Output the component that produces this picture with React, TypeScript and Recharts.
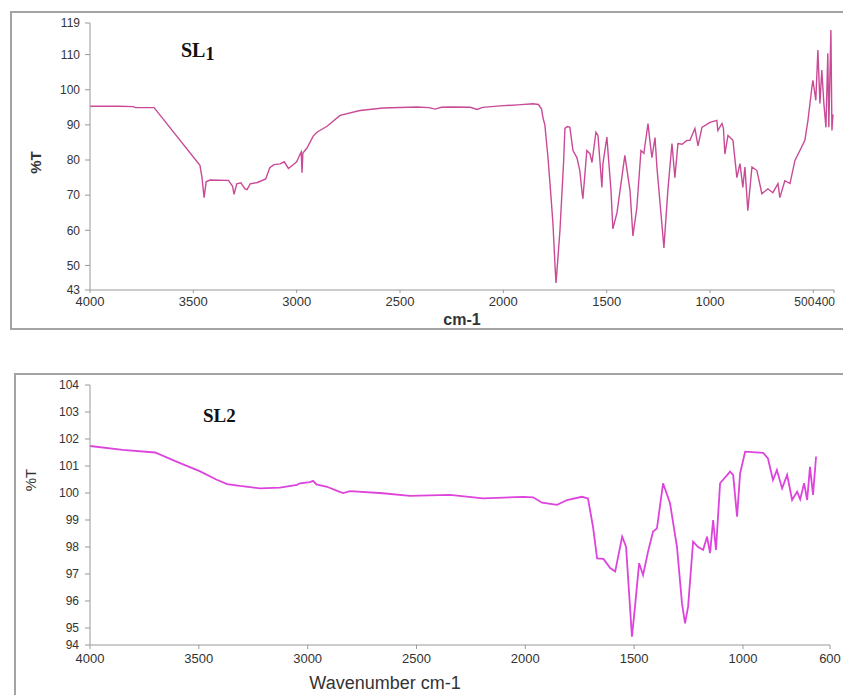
import { LineChart, Line, XAxis, YAxis, Label } from "recharts";

// SL1 spectrum (cm-1 vs %T)
const sl1Wavenumber = [
  4000, 3860, 3790, 3780, 3690, 3468, 3458, 3448, 3438, 3420, 3330, 3310, 3303, 3290, 3270, 3250, 3240, 3225,
  3190, 3150, 3130, 3110, 3080, 3060, 3040, 3020, 3000, 2985, 2978, 2974, 2970, 2950, 2920, 2902, 2853, 2790,
  2694, 2582, 2418, 2360, 2330, 2300, 2258, 2160, 2127, 2100, 2016, 1930, 1857, 1830, 1815, 1808, 1799, 1784,
  1770, 1760, 1750, 1745, 1740, 1736, 1726, 1716, 1708, 1702, 1690, 1678, 1663, 1644, 1630, 1620, 1615, 1596,
  1581, 1571, 1552, 1542, 1533, 1523, 1518, 1499, 1479, 1470, 1450, 1412, 1387, 1373, 1354, 1334, 1320, 1300,
  1290, 1281, 1266, 1257, 1233, 1223, 1204, 1184, 1170, 1155, 1135, 1112, 1097, 1073, 1058, 1039, 1000, 967,
  962, 942, 935, 928, 913, 889, 870, 855, 841, 831, 817, 797, 773, 749, 720, 696, 671, 662, 638, 613, 589, 565,
  541, 526, 507, 502, 488, 478, 468, 459, 449, 439, 430, 425, 415, 410, 405,
];
const sl1Transmittance = [
  95.3, 95.3, 95.2, 94.9, 94.9, 78.5, 75, 69.3, 73.8, 74.3, 74.2, 72.5, 70.2, 73.2, 73.5, 71.8, 71.6, 73.2,
  73.6, 74.6, 77.8, 78.7, 78.9, 79.5, 77.6, 78.5, 79.5, 81.5, 82.3, 76.4, 82, 83.4, 86.8, 87.9, 89.6, 92.7,
  94.1, 94.8, 95.1, 94.9, 94.5, 95.0, 95.1, 95.0, 94.4, 95.0, 95.4, 95.7, 96.0, 95.8, 94.5, 92, 90, 80.7,
  70, 62, 50, 45, 49, 52, 60, 71, 80, 89, 89.5, 89.3, 82.7, 80.7, 77, 71.3, 69, 82.7,
  81.8, 79.3, 87.9, 87, 80, 72.2, 79, 86.5, 71.3, 60.4, 65, 81.3, 71.3, 58.4, 66.4, 82.7, 81.9, 90.4,
  85, 80.7, 86.4, 78, 61.9, 55, 71.3, 84.7, 75, 84.7, 84.5, 85.6, 85.6, 89, 84, 89.3, 90.7, 91.3,
  88.4, 90.4, 89, 81.7, 87, 85.6, 75, 79, 72.2, 78, 65.6, 78, 77, 70.4, 71.8, 70.7, 73.3, 69.3, 74.1, 73.3, 79.9, 82.7,
  85.6, 91.3, 100.7, 102.7, 97, 111.3, 96.1, 105.6, 96, 89.3, 110.4, 89.3, 117, 88.4, 93,
];
const sl1XTicks = [4000, 3500, 3000, 2500, 2000, 1500, 1000, 500, 400];
const sl1YTicks = [43, 50, 60, 70, 80, 90, 100, 110, 119];

// SL2 spectrum
const sl2Wavenumber = [
  4000, 3850, 3701, 3600, 3494, 3420, 3370, 3311, 3219, 3127, 3049, 3035, 2990, 2975, 2960, 2911, 2870, 2837,
  2805, 2654, 2530, 2346, 2194, 2010, 1964, 1923, 1854, 1808, 1740, 1712, 1689, 1670, 1641, 1610, 1587, 1555,
  1537, 1510, 1496, 1477, 1459, 1436, 1413, 1395, 1367, 1335, 1303, 1280, 1266, 1252, 1229, 1206, 1183, 1165,
  1151, 1137, 1124, 1105, 1059, 1045, 1027, 1013, 990, 907, 885, 862, 844, 820, 797, 774, 751, 737, 719, 705,
  692, 678, 664,
];
const sl2Transmittance = [
  101.74, 101.6, 101.5, 101.15, 100.8, 100.5, 100.33, 100.26, 100.17, 100.2, 100.3, 100.36, 100.4, 100.45, 100.32,
  100.23, 100.1, 100.0, 100.07, 99.99, 99.89, 99.93, 99.8, 99.86, 99.84, 99.64, 99.56, 99.74, 99.86, 99.8, 98.75,
  97.58, 97.56, 97.22, 97.09, 98.38, 98.01, 94.68, 95.79, 97.4, 96.96, 97.83, 98.57, 98.69, 100.36, 99.62, 98.0,
  95.91, 95.17, 95.79, 98.2, 98.0, 97.89, 98.38, 97.77, 99.0, 97.89, 100.36, 100.79, 100.67, 99.12, 100.73,
  101.53, 101.49, 101.28, 100.48, 100.85, 100.17, 100.67, 99.74, 100.05, 99.77, 100.36, 99.74, 100.97, 99.93,
  101.35,
];
const sl2XTicks = [4000, 3500, 3000, 2500, 2000, 1500, 1000, 600];
const sl2YTicks = [94.37, 95, 96, 97, 98, 99, 100, 101, 102, 103, 104];

const toRows = (wn: number[], t: number[]) => wn.map((w, i) => ({ wn: w, t: t[i] }));

const sl1Data = toRows(sl1Wavenumber, sl1Transmittance);
const sl2Data = toRows(sl2Wavenumber, sl2Transmittance);

const sans = "Liberation Sans, Arial, sans-serif";
const xTickStyle = { fill: "#333", fontSize: 13, fontFamily: sans };
const yTickStyle = { fill: "#333", fontSize: 12, fontFamily: sans };
const axisStroke = "#999";

// the last two SL1 ticks sit close together, so they hang left of their tick marks
function Sl1XTick(props: any) {
  const { x, y, payload } = props;
  const crowded = payload.value <= 500;
  return (
    <text
      x={crowded ? x + 1 : x}
      y={y}
      dy="0.71em"
      textAnchor={crowded ? "end" : "middle"}
      fill="#333"
      fontSize={crowded ? 12 : 13}
      fontFamily={sans}
    >
      {payload.value}
    </text>
  );
}

export default function App() {
  return (
    <div style={{ position: "absolute", left: 0, top: 0, width: 843, height: 695, overflow: "hidden", background: "#fff" }}>
      <div style={{ position: "absolute", left: 10, top: 11, width: 850, height: 315, border: "2px solid #a3a3a3" }} />
      <div style={{ position: "absolute", left: 14, top: 373, width: 850, height: 340, border: "2px solid #a3a3a3" }} />

      <div style={{ position: "absolute", left: 0, top: 0 }}>
        <LineChart width={843} height={330} data={sl1Data} margin={{ top: 23, right: 9, left: 30, bottom: 10 }}>
          <XAxis
            dataKey="wn"
            type="number"
            domain={[400, 4000]}
            reversed
            ticks={sl1XTicks}
            interval={0}
            height={30}
            tick={<Sl1XTick />}
            tickSize={3}
            tickMargin={4}
            axisLine={{ stroke: axisStroke }}
            tickLine={{ stroke: axisStroke }}
          >
            <Label value="cm-1" position="center" dy={14} style={{ fontSize: 16, fontWeight: "bold", fill: "#333", fontFamily: sans }} />
          </XAxis>
          <YAxis
            type="number"
            domain={[43, 119]}
            ticks={sl1YTicks}
            interval={0}
            width={60}
            tick={yTickStyle}
            tickSize={5}
            tickMargin={5}
            axisLine={{ stroke: axisStroke }}
            tickLine={{ stroke: axisStroke }}
          >
            <Label value="%T" angle={-90} position="center" dx={-24} dy={6} style={{ fontSize: 15, fontWeight: "bold", fill: "#333", fontFamily: sans }} />
          </YAxis>
          <Line dataKey="t" type="linear" stroke="#c94a96" strokeWidth={1.4} dot={false} isAnimationActive={false} />
        </LineChart>
      </div>

      <div style={{ position: "absolute", left: 0, top: 360 }}>
        <LineChart width={843} height={335} data={sl2Data} margin={{ top: 25, right: 13, left: 30, bottom: 10 }}>
          <XAxis
            dataKey="wn"
            type="number"
            domain={[600, 4000]}
            reversed
            ticks={sl2XTicks}
            interval={0}
            height={40}
            tick={xTickStyle}
            tickSize={4}
            tickMargin={5}
            axisLine={{ stroke: axisStroke }}
            tickLine={{ stroke: axisStroke }}
          >
            <Label value="Wavenumber cm-1" position="center" dx={-75} dy={18} style={{ fontSize: 18, fill: "#333", fontFamily: sans }} />
          </XAxis>
          <YAxis
            type="number"
            domain={[94.37, 104]}
            ticks={sl2YTicks}
            interval={0}
            width={60}
            tickFormatter={(v: number) => String(Math.round(v))}
            tick={yTickStyle}
            tickSize={5}
            tickMargin={6}
            axisLine={{ stroke: axisStroke }}
            tickLine={{ stroke: axisStroke }}
          >
            <Label value="%T" angle={-90} position="center" dx={-29} dy={-35} style={{ fontSize: 15, fill: "#333", fontFamily: sans }} />
          </YAxis>
          <Line dataKey="t" type="linear" stroke="#dd44dd" strokeWidth={1.8} dot={false} isAnimationActive={false} />
        </LineChart>
      </div>

      <div style={{ position: "absolute", left: 181, top: 40, fontFamily: "Liberation Serif, Times New Roman, serif", fontWeight: "bold", fontSize: 20, lineHeight: "20px", color: "#111" }}>
        SL<span style={{ fontSize: 18, position: "relative", top: 3 }}>1</span>
      </div>
      <div style={{ position: "absolute", left: 203, top: 406, fontFamily: "Liberation Serif, Times New Roman, serif", fontWeight: "bold", fontSize: 19, lineHeight: "19px", color: "#111" }}>
        SL2
      </div>
    </div>
  );
}
